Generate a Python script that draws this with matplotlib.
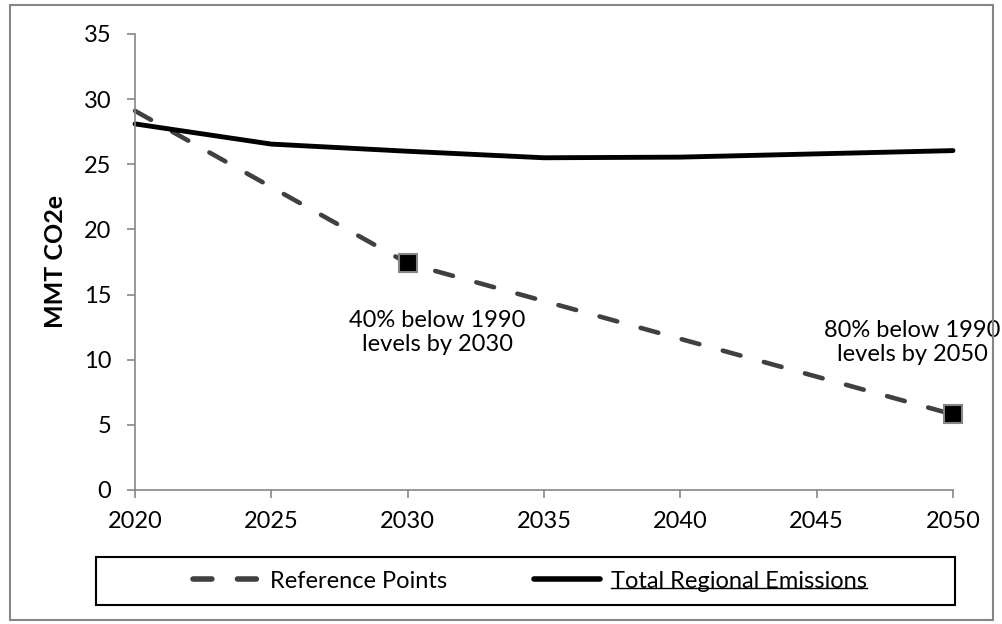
import matplotlib.pyplot as plt
from matplotlib.lines import Line2D
from matplotlib.patches import Rectangle

# ---------- data ---------- #
years = [2020, 2025, 2030, 2035, 2040, 2045, 2050]
total_emissions = [28.1, 26.55, 26.0, 25.5, 25.55, 25.8, 26.05]

ref_years = [2020, 2030, 2050]
ref_points = [29.1, 17.4, 5.8]

note_2030 = '40% below 1990\nlevels by 2030'
note_2050 = '80% below 1990\nlevels by 2050'

plt.rcParams['font.family'] = ['Lato', 'DejaVu Sans']
grey = '#868686'
fs = 17

fig = plt.figure(figsize=(10.02, 6.24), dpi=100)
ax = fig.add_axes([135 / 1002, 1 - 490 / 624, (953 - 135) / 1002, (490 - 34) / 624])

# outer border
fig.patches.append(Rectangle((10 / 1002, 4 / 624), 983 / 1002, 615 / 624, transform=fig.transFigure,
                             fill=False, edgecolor=grey, linewidth=1.5))

ax.plot(ref_years, ref_points, color='#404040', linewidth=3.3, linestyle=(0, (4.0, 5.3)),
        dash_capstyle='round', marker='s', markevery=[1, 2], markersize=13,
        markerfacecolor='black', markeredgecolor=grey, markeredgewidth=1.5, clip_on=False)
ax.plot(years, total_emissions, color='black', linewidth=3.5, solid_capstyle='round', clip_on=False)

ax.text(2031.1, 12.1, note_2030, ha='center', va='center', fontsize=fs, linespacing=1.2)
ax.text(2048.5, 11.3, note_2050, ha='center', va='center', fontsize=fs, linespacing=1.2)

ax.set_xlim(2020, 2050)
ax.set_ylim(0, 35)
ax.set_xticks(years)
ax.set_yticks(range(0, 36, 5))
ax.tick_params(axis='both', direction='out', length=6, width=1.2, color=grey, labelsize=fs)
ax.tick_params(axis='y', pad=11)
ax.tick_params(axis='x', pad=9)
for s in ['top', 'right']:
    ax.spines[s].set_visible(False)
for s in ['left', 'bottom']:
    ax.spines[s].set_color(grey)
    ax.spines[s].set_linewidth(1.2)
ax.set_ylabel('MMT CO2e', fontsize=18, fontweight='bold', labelpad=12)

# legend box
fig.patches.append(Rectangle((96 / 1002, 1 - 605 / 624), (955 - 96) / 1002, 48 / 624,
                             transform=fig.transFigure, fill=False, edgecolor='black', linewidth=1.5))
leg_handles = [Line2D([], [], color='#404040', linewidth=4, linestyle=(0, (3.4, 4.6)), dash_capstyle='round'),
               Line2D([], [], color='black', linewidth=4, solid_capstyle='round')]
leg = fig.legend(leg_handles, ['Reference Points', 'Total Regional Emissions'], ncol=2,
                 loc='center', bbox_to_anchor=(530 / 1002, 1 - 581 / 624),
                 fontsize=fs, frameon=False, handlelength=2.8, handletextpad=0.45,
                 columnspacing=3.7, borderpad=0)

# underline the second legend entry
fig.canvas.draw()
bb = leg.get_texts()[1].get_window_extent().transformed(fig.transFigure.inverted())
fig.add_artist(Line2D([bb.x0, bb.x1], [bb.y0 + 0.006, bb.y0 + 0.006], transform=fig.transFigure,
                      color='black', linewidth=1))

fig.savefig('out.png', dpi=100)
